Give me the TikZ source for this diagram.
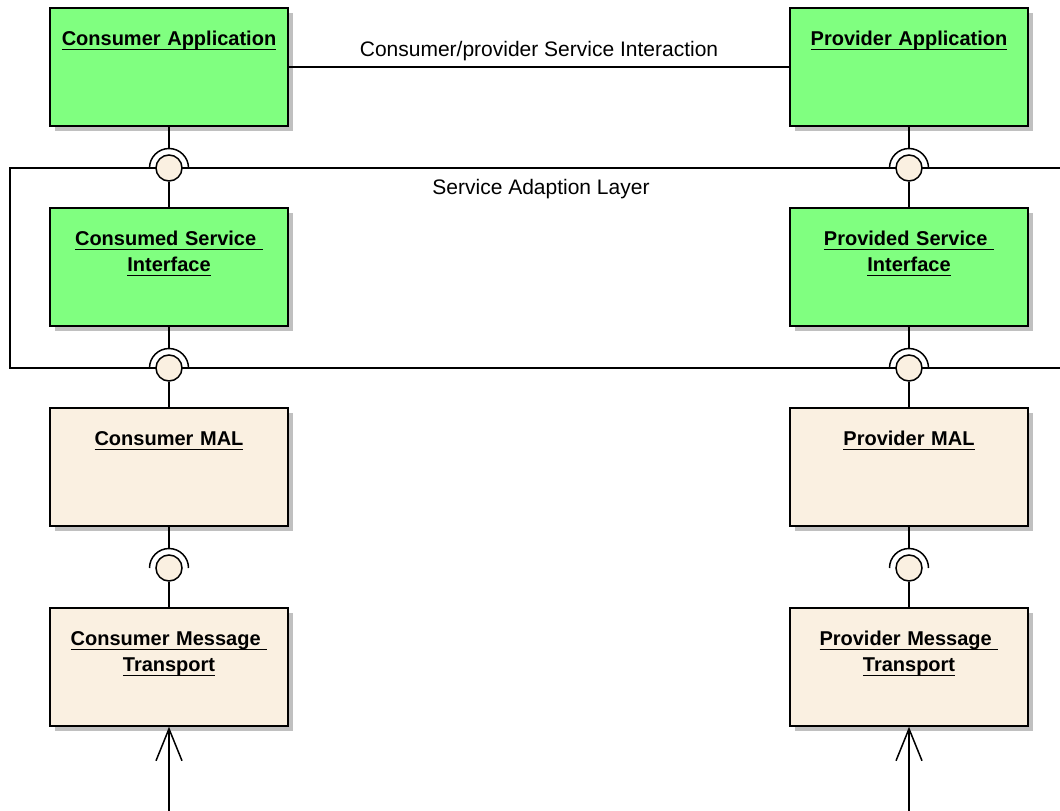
\documentclass[tikz,border=0pt]{standalone}
\usepackage{fontspec}
\setmainfont{Liberation Sans}
\usetikzlibrary{arrows.meta,calc,shadows}
\definecolor{eagreen}{HTML}{80FF80}
\definecolor{eabeige}{HTML}{FAF0E1}
\definecolor{eashadow}{HTML}{C0C0C0}
\newcommand{\eaul}[1]{\leavevmode\setbox0\hbox{#1}\rlap{\rule[-5pt]{\wd0}{1.4pt}}\box0}

\tikzset{
  comp/.style={draw, fill=#1, minimum width=238pt, minimum height=118pt,
    text width=230pt, align=center, inner sep=0pt,
    text height=37pt, text depth=81pt,
    font=\fontsize{20}{26}\selectfont\bfseries,
    general shadow={fill=eashadow, shadow xshift=5pt, shadow yshift=-5pt}},
  ball/.style={circle, draw, fill=eabeige, minimum size=26pt, inner sep=0pt},
}

\begin{document}
\begin{tikzpicture}[x=1pt,y=-1pt,line width=1.5pt,font=\fontsize{21}{26}\selectfont]
\useasboundingbox (0,0) rectangle (1060,811);

% service adaption layer
\draw (1080,168) -| (10,368) -- (1080,368);
\node(layer) at (541,194)[anchor=base]{Service Adaption Layer};

% components
\node(capp) at (169,67)[comp=eagreen]{\eaul{Consumer Application}};
\node(papp) at (909,67)[comp=eagreen]{\eaul{Provider Application}};
\node(csi)  at (169,267)[comp=eagreen]{\eaul{Consumed Service\ }\\\eaul{Interface}};
\node(psi)  at (909,267)[comp=eagreen]{\eaul{Provided Service\ }\\\eaul{Interface}};
\node(cmal) at (169,467)[comp=eabeige]{\eaul{Consumer MAL}};
\node(pmal) at (909,467)[comp=eabeige]{\eaul{Provider MAL}};
\node(cmt)  at (169,667)[comp=eabeige]{\eaul{Consumer Message\ }\\\eaul{Transport}};
\node(pmt)  at (909,667)[comp=eabeige]{\eaul{Provider Message\ }\\\eaul{Transport}};

% interfaces
\node(cb1) at (169,168)[ball]{};
\node(pb1) at (909,168)[ball]{};
\node(cb2) at (169,368)[ball]{};
\node(pb2) at (909,368)[ball]{};
\node(cb3) at (169,568)[ball]{};
\node(pb3) at (909,568)[ball]{};

\foreach \b in {cb1,pb1,cb2,pb2,cb3,pb3}
  \draw ($(\b)+(-19.5,0)$) arc (180:360:19.5);

\path[draw]
  (capp) -- ($(cb1)+(0,-19.5)$)  (cb1) -- (csi)
  (papp) -- ($(pb1)+(0,-19.5)$)  (pb1) -- (psi)
  (csi)  -- ($(cb2)+(0,-19.5)$)  (cb2) -- (cmal)
  (psi)  -- ($(pb2)+(0,-19.5)$)  (pb2) -- (pmal)
  (cmal) -- ($(cb3)+(0,-19.5)$)  (cb3) -- (cmt)
  (pmal) -- ($(pb3)+(0,-19.5)$)  (pb3) -- (pmt);

\draw (capp) -- (papp) node[midway,above=2pt]{Consumer/provider Service Interaction};

% incoming transport
\coordinate(cin) at (169,830);
\coordinate(pin) at (909,830);
\draw[-{Straight Barb[length=32pt,width=26pt]}] (cin) -- (cmt);
\draw[-{Straight Barb[length=32pt,width=26pt]}] (pin) -- (pmt);

\end{tikzpicture}
\end{document}
